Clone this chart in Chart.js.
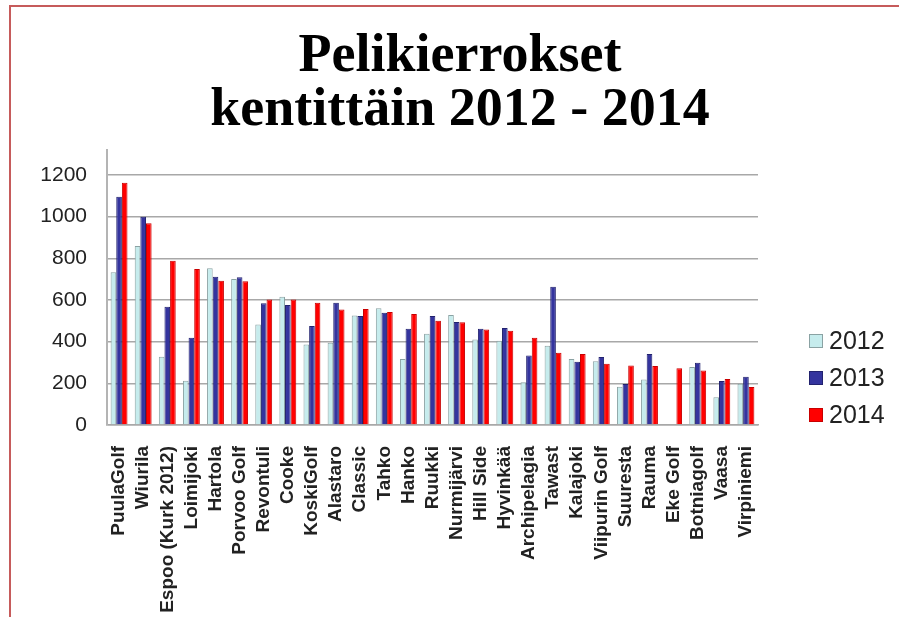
<!DOCTYPE html>
<html>
<head>
<meta charset="utf-8">
<script src="https://cdn.jsdelivr.net/npm/chart.js@4/dist/chart.umd.min.js"></script>
<style>
  body { margin: 0; background: #fff; }
  #wrap { position: relative; width: 899px; height: 617px; overflow: hidden; }
  #frame { position: absolute; left: 9px; top: 5px; right: -5px; bottom: -5px;
           border-left: 2px solid #c65b5b; border-top: 2px solid #c65b5b; pointer-events: none; }
  #legend { position: absolute; left: 809px; top: 322px; font-family: "Liberation Sans", Arial, sans-serif;
            font-size: 25px; color: #222; }
  .item { height: 37px; display: flex; align-items: center; }
  .box { width: 12px; height: 12px; margin-right: 6px; border: 1px solid; }
</style>
</head>
<body>
<div id="wrap">
  <canvas id="chart" width="899" height="617"></canvas>
  <div id="frame"></div>
  <div id="legend"></div>
</div>
<script>

const courses = ['PuulaGolf','Wiurila','Espoo (Kurk 2012)','Loimijoki','Hartola','Porvoo Golf','Revontuli','Cooke',
	'KoskiGolf','Alastaro','Classic','Tahko','Hanko','Ruukki','Nurmijärvi','Hill Side','Hyvinkää','Archipelagia',
	'Tawast','Kalajoki','Viipurin Golf','Suuresta','Rauma','Eke Golf','Botniagolf','Vaasa','Virpiniemi'];

const rounds2012 = [733, 859, 328, 213, 752, 701, 482, 616, 387, 395, 526, 560, 317, 438, 528, 410, 405, 205, 381, 317, 306, 184, 218, null, 278, 133, 198];
const rounds2013 = [1096, 1000, 568, 419, 712, 709, 584, 576, 475, 587, 523, 539, 462, 523, 494, 462, 466, 334, 664, 304, 326, 197, 341, null, 299, 211, 232];
const rounds2014 = [1163, 968, 789, 749, 693, 690, 603, 603, 587, 555, 557, 542, 533, 501, 493, 458, 453, 419, 347, 341, 294, 286, 283, 272, 262, 221, 182];

const yearLabels = ['2012', '2013', '2014'];
const yTicks = [0, 200, 400, 600, 800, 1000, 1200];

const fills = ['#c6eced', '#34349e', '#ff0000'];
const edges = ['#8aa2a3', '#22226e', '#c80000'];

const sans = '"Liberation Sans", Arial, sans-serif';

const datasets = [rounds2012, rounds2013, rounds2014].map( ( values, i ) => ({
	label: yearLabels[i],
	data: values,
	backgroundColor: fills[i],
	borderColor: edges[i],
	borderWidth: 1,
	categoryPercentage: 0.7,
	barPercentage: 1.0
}));

new Chart( document.getElementById('chart'), {
	type: 'bar',
	data: { labels: courses, datasets: datasets },
	options: {
		responsive: false,
		animation: false,
		devicePixelRatio: 1,
		layout: { padding: { left: 21, right: 0, top: 0, bottom: 0 } },
		plugins: {
			legend: { display: false },
			tooltip: { enabled: false },
			title: {
				display: true,
				text: ['Pelikierrokset', 'kentittäin 2012 - 2014'],
				color: '#000',
				font: { family: '"Liberation Serif", "Times New Roman", serif', size: 54, weight: 'bold', lineHeight: 1 },
				padding: { top: 30, bottom: 12 }
			}
		},
		scales: {
			x: {
				grid: { display: false },
				border: { display: true, color: '#a8a8a8', width: 1.5 },
				ticks: {
					autoSkip: false,
					minRotation: 90,
					maxRotation: 90,
					padding: 13,
					color: '#222',
					font: { family: sans, size: 19, weight: 'bold' }
				},
				afterFit: ( scale ) => { scale.height = 192; }
			},
			y: {
				min: 0,
				max: 1320,
				afterBuildTicks: ( scale ) => {
					scale.ticks = yTicks.map( v => ({ value: v }) );
				},
				grid: { color: '#a8a8a8', lineWidth: 1.5, drawTicks: false },
				border: { display: true, color: '#b4b4b4', width: 2 },
				ticks: {
					padding: 20,
					color: '#222',
					font: { family: sans, size: 21 },
					callback: ( value ) => String( value )
				},
				afterFit: ( scale ) => { scale.width = 86; }
			},
			// empty scale that only reserves the room where the legend sits
			spacer: {
				type: 'linear',
				axis: 'y',
				position: 'right',
				grid: { display: false },
				border: { display: false },
				ticks: { display: false },
				afterFit: ( scale ) => { scale.width = 141; }
			}
		}
	}
});

// legend on the right
const legend = document.getElementById('legend');
yearLabels.forEach( ( year, i ) => {
	const row = document.createElement('div');
	row.className = 'item';
	const box = document.createElement('span');
	box.className = 'box';
	box.style.background = fills[i];
	box.style.borderColor = edges[i];
	row.appendChild( box );
	row.appendChild( document.createTextNode( year ) );
	legend.appendChild( row );
});

</script>
</body>
</html>
